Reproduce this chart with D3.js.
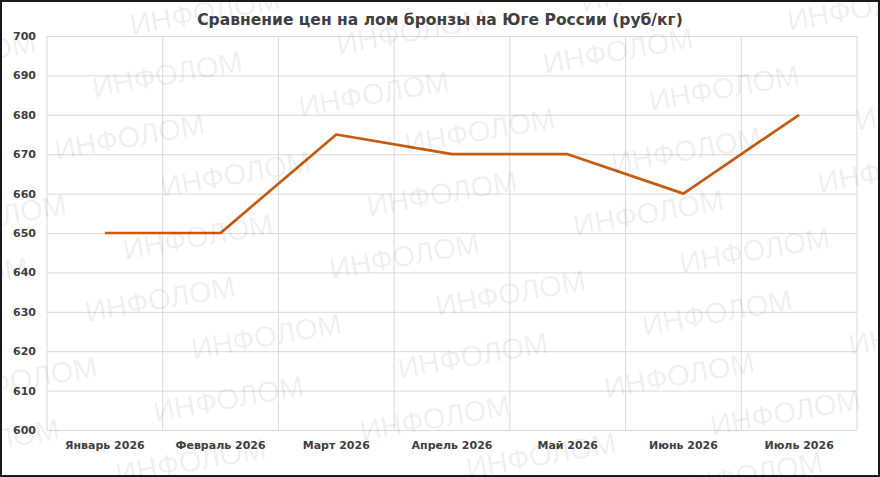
<!DOCTYPE html>
<html><head><meta charset="utf-8">
<script src="https://cdn.jsdelivr.net/npm/d3@7"></script>
<style>
html,body{margin:0;padding:0;background:#fff;}
svg{display:block;}
</style></head>
<body>
<svg id="chart" width="880" height="477"></svg>
<script>
// ---- data ----
const title = "Сравнение цен на лом бронзы на Юге России (руб/кг)";
const categories = ["Январь 2026","Февраль 2026","Март 2026","Апрель 2026","Май 2026","Июнь 2026","Июль 2026"];
const prices = [650, 650, 675, 670, 670, 660, 680];
const yTicks = [600,610,620,630,640,650,660,670,680,690,700];
const watermarkText = "ИНФОЛОМ";

const W = 880, H = 477;
const plot = {left: 47, right: 857, top: 36, bottom: 430};
const svg = d3.select("#chart");

svg.append("rect").attr("width", W).attr("height", H).attr("fill", "#fff");

const x = d3.scaleBand().domain(categories).range([plot.left, plot.right]).padding(0);
const y = d3.scaleLinear().domain([600, 700]).range([plot.bottom, plot.top]);
const cx = d => x(d) + x.bandwidth() / 2;

// gridlines
const grid = svg.append("g").attr("class","grid");
grid.append("g").attr("transform", `translate(${plot.left},0)`)
  .call(d3.axisLeft(y).tickValues(yTicks).tickSize(-(plot.right - plot.left)).tickFormat(""))
  .call(g => g.select(".domain").remove())
  .call(g => g.selectAll("line").attr("stroke", "#d9d9d9").attr("stroke-width", 1));
const vlines = categories.map(c => x(c)).concat([plot.right]);
grid.append("g").selectAll("line").data(vlines).join("line")
  .attr("x1", d => d).attr("x2", d => d).attr("y1", plot.top).attr("y2", plot.bottom)
  .attr("stroke", "#d9d9d9").attr("stroke-width", 1);

// axes labels
const font = "'DejaVu Sans', sans-serif";
const yAxis = svg.append("g").attr("transform", `translate(${plot.left},0)`)
  .call(d3.axisLeft(y).tickValues(yTicks).tickSize(0).tickPadding(11).tickFormat(d3.format("d")));
yAxis.select(".domain").remove();
yAxis.selectAll("text").attr("font-family", font).attr("font-weight", "bold")
  .attr("font-size", 11).attr("fill", "#404040");

const xAxis = svg.append("g").attr("transform", `translate(0,${plot.bottom})`)
  .call(d3.axisBottom(x).tickSize(0).tickPadding(11));
xAxis.select(".domain").remove();
xAxis.selectAll("text").attr("font-family", font).attr("font-weight", "bold")
  .attr("font-size", 11).attr("fill", "#404040");

// line
const line = d3.line().x((d, i) => cx(categories[i])).y(d => y(d));
svg.append("path").datum(prices).attr("d", line)
  .attr("fill", "none").attr("stroke", "#C55A11").attr("stroke-width", 2.7)
  .attr("stroke-linejoin", "round").attr("stroke-linecap", "butt");

// title
const t = svg.append("text").text(title)
  .attr("x", W / 2).attr("y", 25).attr("text-anchor", "middle")
  .attr("font-family", font).attr("font-weight", "bold")
  .attr("font-size", 16).attr("fill", "#404040");
const tl = t.node().getComputedTextLength();
t.attr("font-size", 16 * 486 / tl);

// watermark (decorative tiled text)
const ang = -10 * Math.PI / 180;
const wm = svg.append("g").attr("transform", "rotate(-10)").attr("pointer-events", "none");
const wmPos = [];
for (let k = -3; k <= 5; k++) {
  for (let p = 0; p < 3; p++) {
    for (let j = -3; j <= 5; j++) {
      const fx = 199.8 + 248 * j - 48 * p + 2 * k, fy = 47.4 + 165 * k + 55 * p;
      const sx = fx * Math.cos(ang) - fy * Math.sin(ang);
      const sy = fx * Math.sin(ang) + fy * Math.cos(ang);
      if (sx > -70 && sx < W + 70 && sy > -20 && sy < H + 20) wmPos.push([fx, fy]);
    }
  }
}
wm.selectAll("text").data(wmPos).join("text")
  .attr("x", d => d[0]).attr("y", d => d[1])
  .attr("text-anchor", "middle").attr("dominant-baseline", "central")
  .attr("font-family", "'Liberation Sans', Arial, sans-serif")
  .attr("font-size", 29).attr("fill", "#000").attr("fill-opacity", 0.075)
  .text(watermarkText);

// border
svg.append("rect").attr("x", 1).attr("y", 1).attr("width", W - 2).attr("height", H - 2)
  .attr("fill", "none").attr("stroke", "#1a1a1a").attr("stroke-width", 2);
</script>
</body></html>
